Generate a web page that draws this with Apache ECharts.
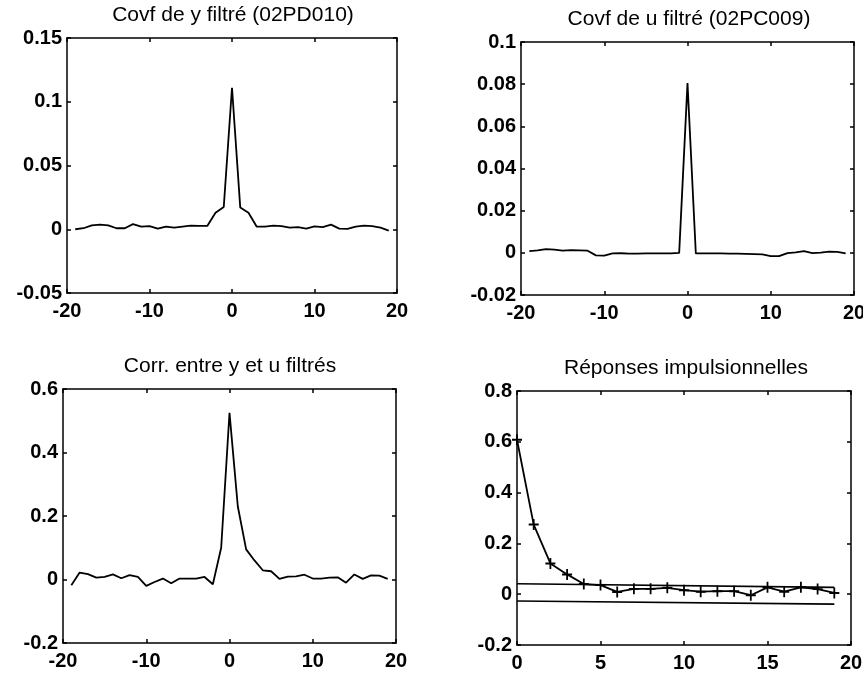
<!DOCTYPE html>
<html><head><meta charset="utf-8">
<script src="https://cdn.jsdelivr.net/npm/echarts@6/dist/echarts.min.js"></script>
<style>html,body{margin:0;padding:0;background:#fff}#c{width:863px;height:676px}</style>
</head><body><div id="c"></div>
<script>
// ---- data ----
const lagsCov = [-19,-18,-17,-16,-15,-14,-13,-12,-11,-10,-9,-8,-7,-6,-5,-4,-3,-2,-1,0,1,2,3,4,5,6,7,8,9,10,11,12,13,14,15,16,17,18,19];
const covY = [0.0000,0.0008,0.0030,0.0036,0.0030,0.0008,0.0008,0.0040,0.0020,0.0025,0.0005,0.0020,0.0012,0.0020,0.0028,0.0026,0.0026,0.0130,0.0175,0.1110,0.0170,0.0130,0.0020,0.0020,0.0028,0.0024,0.0012,0.0016,0.0005,0.0022,0.0016,0.0036,0.0005,0.0003,0.0020,0.0028,0.0025,0.0012,-0.0010];
const covU = [0.0008,0.0012,0.0018,0.0015,0.0010,0.0013,0.0012,0.0010,-0.0012,-0.0013,-0.0003,-0.0002,-0.0004,-0.0004,-0.0003,-0.0003,-0.0003,-0.0003,0.0000,0.0805,-0.0003,-0.0003,-0.0003,-0.0003,-0.0004,-0.0004,-0.0005,-0.0006,-0.0007,-0.0016,-0.0016,-0.0001,0.0002,0.0008,-0.0001,0.0001,0.0006,0.0005,-0.0003];
const corrYU = [-0.018,0.022,0.017,0.006,0.008,0.016,0.004,0.014,0.008,-0.020,-0.008,0.003,-0.012,0.003,0.003,0.003,0.008,-0.015,0.100,0.525,0.230,0.095,0.060,0.029,0.026,0.002,0.009,0.010,0.015,0.003,0.003,0.006,0.007,-0.010,0.016,0.002,0.013,0.012,0.002];
const lagsImp = [0,1,2,3,4,5,6,7,8,9,10,11,12,13,14,15,16,17,18,19];
const impulse = [0.608,0.274,0.121,0.078,0.040,0.036,0.009,0.021,0.021,0.025,0.016,0.010,0.012,0.012,-0.004,0.027,0.010,0.027,0.020,0.005];
const boundLags = [0, 19];
const boundUpper = [0.041, 0.027];
const boundLower = [-0.027, -0.039];
const titles = ['Covf de y filtré (02PD010)','Covf de u filtré (02PC009)','Corr. entre y et u filtrés','Réponses impulsionnelles'];
const xRanges = [[-20,20,10],[-20,20,10],[-20,20,10],[0,20,5]];
const yRanges = [[-0.05,0.15,0.05],[-0.02,0.1,0.02],[-0.2,0.6,0.2],[-0.2,0.8,0.2]];

// ---- layout ----
const grids = [
  {left:67, top:38, width:330, height:255, outerBoundsMode:'none', containLabel:false},
  {left:521, top:42, width:333, height:253, outerBoundsMode:'none', containLabel:false},
  {left:63, top:389, width:333, height:254, outerBoundsMode:'none', containLabel:false},
  {left:517, top:391, width:334, height:254, outerBoundsMode:'none', containLabel:false}
];
const titlePos = [[233,15],[689,19],[230,366],[686,368]];
const FONT = 'Liberation Sans, Arial, sans-serif';
const axLine = {show:true, onZero:false, lineStyle:{color:'#000', width:1.5}};
const tick = {show:true, inside:true, length:4, lineStyle:{color:'#000', width:1.5}};
const lbl = {color:'#000', fontFamily:FONT, fontSize:20, fontWeight:'bold'};

const xAxis = [], yAxis = [], series = [], graphic = [];
grids.forEach((g, i) => {
  const [xmin,xmax,xint] = xRanges[i];
  const [ymin,ymax,yint] = yRanges[i];
  const common = {type:'value', gridIndex:i, splitLine:{show:false}, axisLine:axLine, axisTick:tick};
  xAxis.push(Object.assign({}, common, {position:'bottom', min:xmin, max:xmax, interval:xint,
    axisLabel:Object.assign({margin:8, hideOverlap:false}, lbl)}));
  xAxis.push(Object.assign({}, common, {position:'top', min:xmin, max:xmax, interval:xint, axisLabel:{show:false}}));
  yAxis.push(Object.assign({}, common, {position:'left', min:ymin, max:ymax, interval:yint,
    axisLabel:Object.assign({margin:5, hideOverlap:false}, lbl)}));
  yAxis.push(Object.assign({}, common, {position:'right', min:ymin, max:ymax, interval:yint, axisLabel:{show:false}}));
  graphic.push({type:'text', x:titlePos[i][0], y:titlePos[i][1],
    style:{text:titles[i], fill:'#000', font:'21px ' + FONT, align:'center', verticalAlign:'middle'}});
});

const lineStyle = {color:'#000', width:1.8};
function mk(i, xs, ys, extra) {
  return Object.assign({type:'line', xAxisIndex:2*i, yAxisIndex:2*i, data:xs.map((x,k)=>[x, ys[k]]),
    showSymbol:false, lineStyle:lineStyle, itemStyle:{color:'#000'}, animation:false, silent:true}, extra || {});
}
series.push(mk(0, lagsCov, covY));
series.push(mk(1, lagsCov, covU));
series.push(mk(2, lagsCov, corrYU));
series.push(mk(3, lagsImp, impulse, {showSymbol:true,
  symbol:'path://M0,4.1L10,4.1L10,5.9L0,5.9Z M4.1,0L5.9,0L5.9,10L4.1,10Z', symbolSize:[10,11], itemStyle:{color:'#000'}}));
series.push(mk(3, boundLags, boundUpper, {lineStyle:{color:'#000', width:1.6}}));
series.push(mk(3, boundLags, boundLower, {lineStyle:{color:'#000', width:1.6}}));

const chart = echarts.init(document.getElementById('c'));
chart.setOption({backgroundColor:'#fff', animation:false, grid:grids, xAxis, yAxis, series, graphic});
</script></body></html>
